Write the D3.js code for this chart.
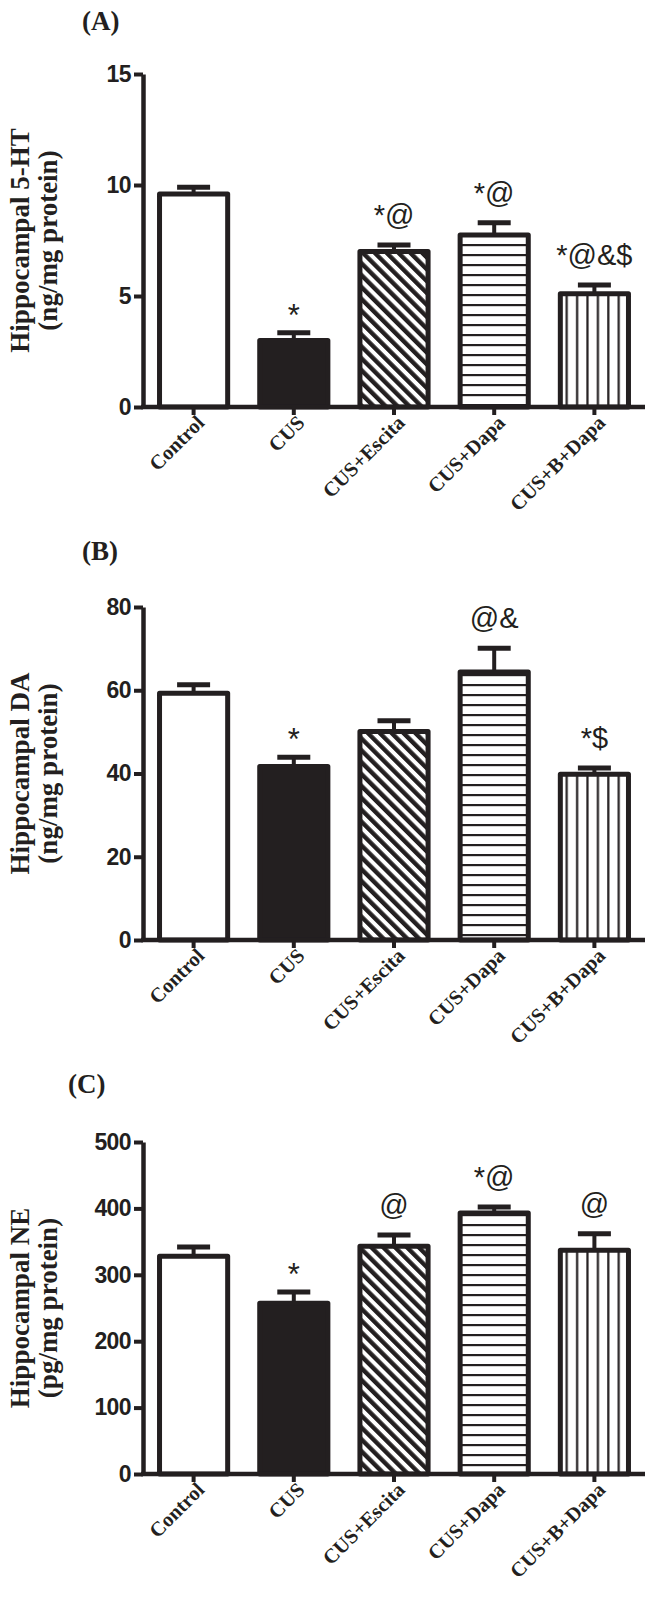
<!DOCTYPE html>
<html>
<head>
<meta charset="utf-8">
<script src="https://cdn.jsdelivr.net/npm/d3@7"></script>
<style>
  html, body { margin: 0; padding: 0; background: #fff; }
  svg { display: block; }
</style>
</head>
<body>
<script>
// ---------- data ----------
const categories = ["Control", "CUS", "CUS+Escita", "CUS+Dapa", "CUS+B+Dapa"];

const htValues = [9.6, 3.0, 7.0, 7.75, 5.1];
const htErrors = [0.3, 0.35, 0.3, 0.55, 0.4];
const htTicks  = [0, 5, 10, 15];
const htMarks  = ["", "*", "*@", "*@", "*@&$"];

const daValues = [59.3, 41.7, 50.1, 64.4, 39.8];
const daErrors = [2.0, 2.2, 2.6, 5.7, 1.5];
const daTicks  = [0, 20, 40, 60, 80];
const daMarks  = ["", "*", "", "@&", "*$"];

const neValues = [328, 257, 343, 393, 337];
const neErrors = [14, 17, 17, 9, 25];
const neTicks  = [0, 100, 200, 300, 400, 500];
const neMarks  = ["", "*", "@", "*@", "@"];

const panelLabels = ["(A)", "(B)", "(C)"];
const titleLine1 = ["Hippocampal 5-HT", "Hippocampal DA", "Hippocampal NE"];
const titleLine2 = ["(ng/mg protein)", "(ng/mg protein)", "(pg/mg protein)"];
const fills = ["white", "#231f20", "url(#diag)", "url(#horiz)", "url(#vert)"];

// ---------- layout ----------
const W = 650, H = 1598;
const INK = "#231f20";
const panels = [
  { label: panelLabels[0], t1: titleLine1[0], t2: titleLine2[0], values: htValues, errors: htErrors, ticks: htTicks, marks: htMarks, y0: 407, y1: 74,  labelX: 82, labelY: 30 },
  { label: panelLabels[1], t1: titleLine1[1], t2: titleLine2[1], values: daValues, errors: daErrors, ticks: daTicks, marks: daMarks, y0: 940, y1: 607, labelX: 82, labelY: 560 },
  { label: panelLabels[2], t1: titleLine1[2], t2: titleLine2[2], values: neValues, errors: neErrors, ticks: neTicks, marks: neMarks, y0: 1474, y1: 1142, labelX: 68, labelY: 1093 }
];
const axisX = 143, axisRight = 645;

const svg = d3.select("body").append("svg")
  .attr("width", W).attr("height", H)
  .attr("viewBox", `0 0 ${W} ${H}`);

// patterns
const defs = svg.append("defs");
const pd = defs.append("pattern").attr("id", "diag")
  .attr("patternUnits", "userSpaceOnUse").attr("width", 8.4).attr("height", 8.4)
  .attr("patternTransform", "rotate(-45)");
pd.append("rect").attr("width", 8.4).attr("height", 8.4).attr("fill", "white");
pd.append("rect").attr("width", 4.4).attr("height", 8.4).attr("fill", INK);

const ph = defs.append("pattern").attr("id", "horiz")
  .attr("patternUnits", "userSpaceOnUse").attr("width", 10).attr("height", 10);
ph.append("rect").attr("width", 10).attr("height", 10).attr("fill", "white");
ph.append("rect").attr("y", 4).attr("width", 10).attr("height", 2.2).attr("fill", INK);

const pv = defs.append("pattern").attr("id", "vert")
  .attr("patternUnits", "userSpaceOnUse").attr("width", 10.4).attr("height", 10);
pv.append("rect").attr("width", 10.4).attr("height", 10).attr("fill", "white");
pv.append("rect").attr("x", 4).attr("width", 2.2).attr("height", 10).attr("fill", INK);

const x = d3.scaleBand().domain(categories)
  .range([axisX, axisRight]).paddingInner(0.27).paddingOuter(0.14);

panels.forEach(p => {
  const g = svg.append("g");
  const y = d3.scaleLinear().domain([0, d3.max(p.ticks)]).range([p.y0, p.y1]);
  const data = categories.map((c, i) => ({ c, v: p.values[i], e: p.errors[i], m: p.marks[i], f: fills[i] }));

  // panel label
  g.append("text").attr("x", p.labelX).attr("y", p.labelY)
    .attr("font-family", "'Liberation Serif', 'Times New Roman', serif")
    .attr("font-weight", "bold").attr("font-size", 27).attr("fill", INK)
    .text(p.label);

  // y title
  const cy = (p.y0 + p.y1) / 2;
  [[p.t1, 29], [p.t2, 57]].forEach(([t, tx]) => {
    g.append("text")
      .attr("transform", `translate(${tx},${cy}) rotate(-90)`)
      .attr("text-anchor", "middle")
      .attr("font-family", "'Liberation Serif', 'Times New Roman', serif")
      .attr("font-weight", "bold").attr("font-size", 27).attr("fill", INK)
      .text(t);
  });

  // error bars
  const eb = g.append("g");
  data.forEach(d => {
    const cx = x(d.c) + x.bandwidth() / 2;
    eb.append("line").attr("x1", cx).attr("x2", cx)
      .attr("y1", y(d.v)).attr("y2", y(d.v + d.e))
      .attr("stroke", INK).attr("stroke-width", 4);
    eb.append("line").attr("x1", cx - 16.5).attr("x2", cx + 16.5)
      .attr("y1", y(d.v + d.e)).attr("y2", y(d.v + d.e))
      .attr("stroke", INK).attr("stroke-width", 5);
  });

  // bars
  g.append("g").selectAll("rect").data(data).join("rect")
    .attr("x", d => x(d.c) + 2.5)
    .attr("width", x.bandwidth() - 5)
    .attr("y", d => y(d.v))
    .attr("height", d => y(0) - y(d.v))
    .attr("fill", d => d.f)
    .attr("stroke", INK).attr("stroke-width", 5)
    .attr("stroke-linejoin", "round");

  // significance marks
  g.append("g").selectAll("text").data(data.filter(d => d.m)).join("text")
    .attr("x", d => x(d.c) + x.bandwidth() / 2)
    .attr("y", d => y(d.v + d.e) - (d.m === "*" ? 7 : 20))
    .attr("text-anchor", "middle")
    .attr("font-family", "'Liberation Sans', Arial, sans-serif")
    .attr("font-size", d => d.m === "*" ? 31 : 29).attr("fill", INK)
    .text(d => d.m);

  // y axis
  const ya = g.append("g").attr("transform", `translate(${axisX},0)`)
    .call(d3.axisLeft(y).tickValues(p.ticks).tickSize(9).tickSizeOuter(0).tickPadding(3).tickFormat(d3.format("d")));
  ya.select(".domain").attr("stroke", INK).attr("stroke-width", 4.5);
  ya.selectAll(".tick line").attr("stroke", INK).attr("stroke-width", 4);
  ya.selectAll(".tick text")
    .attr("font-family", "'Liberation Sans', Arial, sans-serif")
    .attr("font-weight", "bold").attr("font-size", 23).attr("fill", INK)
    .attr("letter-spacing", -0.6);

  // x axis
  const xa = g.append("g").attr("transform", `translate(0,${p.y0})`)
    .call(d3.axisBottom(x).tickSize(8).tickSizeOuter(0));
  xa.select(".domain").attr("stroke", INK).attr("stroke-width", 4.5)
    .attr("d", `M${axisX - 2},0H${axisRight}`);
  xa.selectAll(".tick line").attr("stroke", INK).attr("stroke-width", 4);
  xa.selectAll(".tick text")
    .attr("x", 0).attr("y", 0).attr("dy", 0)
    .attr("transform", "translate(12,17) rotate(-45)")
    .style("text-anchor", "end")
    .attr("font-family", "'Liberation Serif', 'Times New Roman', serif")
    .attr("font-weight", "bold").attr("font-size", 20.5).attr("fill", INK);
});
</script>
</body>
</html>
